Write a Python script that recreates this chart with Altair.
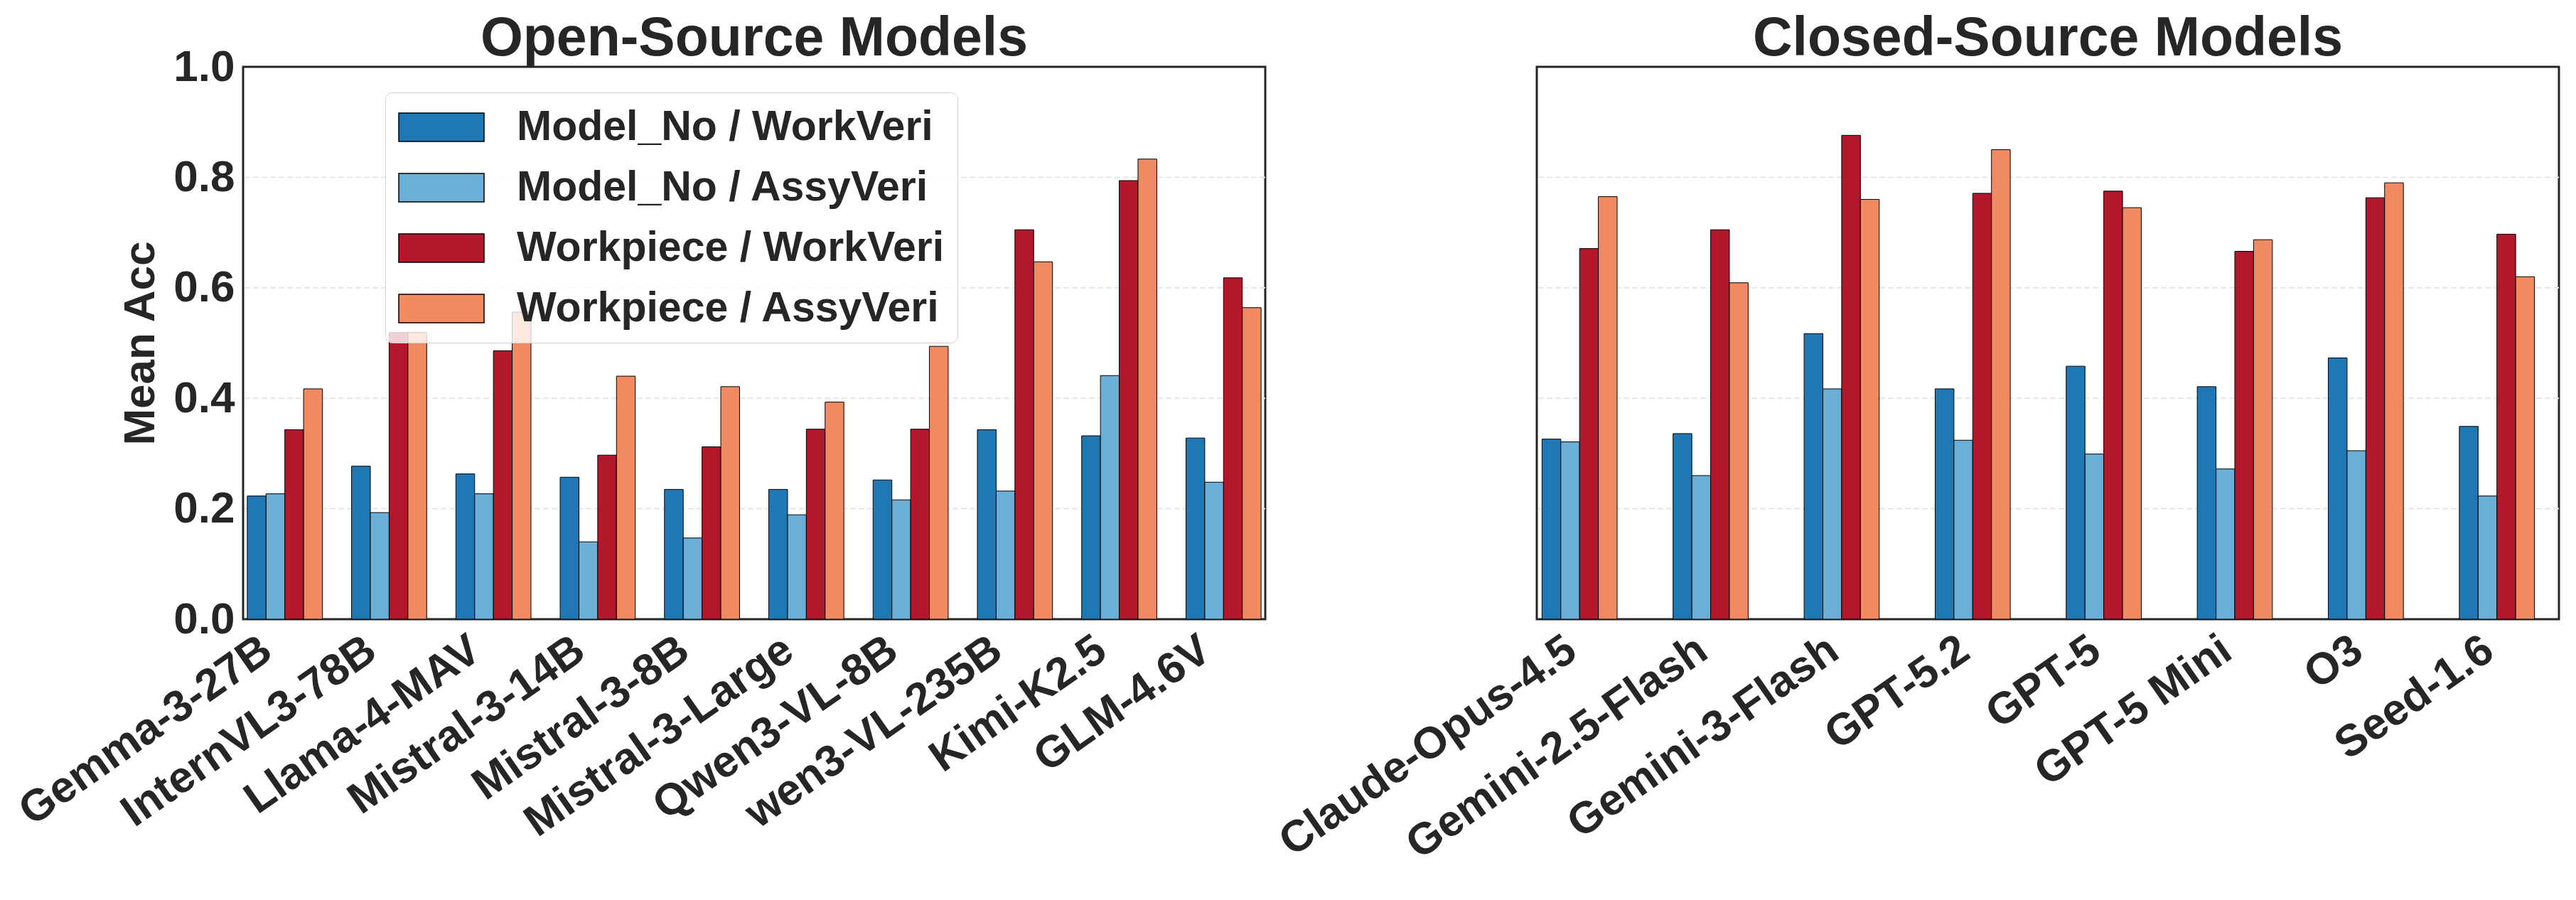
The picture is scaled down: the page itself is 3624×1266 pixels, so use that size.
import altair as alt
import pandas as pd

FONT = "Liberation Sans"
TXT = "#262626"

series = ["Model_No / WorkVeri", "Model_No / AssyVeri",
          "Workpiece / WorkVeri", "Workpiece / AssyVeri"]
colors = ["#1f77b4", "#6baed6", "#b2182b", "#ef8a62"]

open_models = ["Gemma-3-27B", "InternVL3-78B", "Llama-4-MAV", "Mistral-3-14B",
               "Mistral-3-8B", "Mistral-3-Large", "Qwen3-VL-8B", "wen3-VL-235B",
               "Kimi-K2.5", "GLM-4.6V"]
open_model_work = [0.223, 0.277, 0.263, 0.257, 0.235, 0.235, 0.252, 0.343, 0.332, 0.328]
open_model_assy = [0.227, 0.193, 0.227, 0.140, 0.147, 0.189, 0.216, 0.232, 0.441, 0.248]
open_piece_work = [0.343, 0.519, 0.486, 0.297, 0.312, 0.344, 0.344, 0.705, 0.794, 0.618]
open_piece_assy = [0.417, 0.519, 0.556, 0.440, 0.421, 0.393, 0.494, 0.647, 0.833, 0.564]

closed_models = ["Claude-Opus-4.5", "Gemini-2.5-Flash", "Gemini-3-Flash", "GPT-5.2",
                 "GPT-5", "GPT-5 Mini", "O3", "Seed-1.6"]
closed_model_work = [0.326, 0.336, 0.517, 0.417, 0.458, 0.421, 0.473, 0.349]
closed_model_assy = [0.321, 0.260, 0.417, 0.324, 0.299, 0.272, 0.305, 0.223]
closed_piece_work = [0.671, 0.705, 0.876, 0.771, 0.775, 0.666, 0.763, 0.697]
closed_piece_assy = [0.765, 0.609, 0.760, 0.850, 0.745, 0.687, 0.790, 0.620]

y_tick_values = [0, 0.2, 0.4, 0.6, 0.8, 1.0]
grid_values = [0.2, 0.4, 0.6, 0.8]


def make_df(models, arrays):
    rows = []
    for s, vals in zip(series, arrays):
        for m, v in zip(models, vals):
            rows.append({"model": m, "series": s, "value": v})
    return pd.DataFrame(rows)


open_df = make_df(open_models, [open_model_work, open_model_assy, open_piece_work, open_piece_assy])
closed_df = make_df(closed_models, [closed_model_work, closed_model_assy, closed_piece_work, closed_piece_assy])
grid_df = pd.DataFrame({"value": grid_values})

W, H = 1438, 777


def panel(df, models, title, left):
    x_axis = alt.Axis(labelAngle=-35, labelAlign="right", labelBaseline="alphabetic",
                      labelPadding=52, labelOffset=-14, labelFontSize=62, labelFontWeight="bold",
                      labelFont=FONT, labelColor=TXT, ticks=False, domain=False,
                      labelLimit=2000, labelOverlap=False)
    yscale = alt.Scale(domain=[0, 1], nice=False)
    if left:
        y_axis = alt.Axis(values=y_tick_values, format=".1f", titleFontSize=62,
                          titleFontWeight="bold", titleFont=FONT, titleColor=TXT,
                          titlePadding=14, labelFontSize=62, labelFontWeight="bold",
                          labelFont=FONT, labelColor=TXT, labelPadding=12,
                          ticks=False, domain=False, grid=False)
        y = alt.Y("value:Q", title="Mean Acc", scale=yscale, axis=y_axis)
        y_grid = alt.Y("value:Q", title="Mean Acc", scale=yscale, axis=y_axis)
        legend = alt.Legend(title=None, orient="none", legendX=200, legendY=36,
                            direction="vertical", labelFontSize=59, labelFontWeight="bold",
                            labelFont=FONT, labelColor=TXT,
                            symbolType="M-1,-0.667H3V0.667H-1Z", symbolSize=3600,
                            symbolStrokeColor="black", symbolStrokeWidth=1.5,
                            symbolOpacity=1, labelOffset=105, rowPadding=24, padding=18,
                            fillColor="rgba(255,255,255,0.8)", strokeColor="#d0d0d0",
                            cornerRadius=10, labelLimit=2000)
        color = alt.Color("series:N", legend=legend,
                          scale=alt.Scale(domain=series, range=colors))
        t_off = -108
    else:
        y = alt.Y("value:Q", title=None, scale=yscale, axis=None)
        y_grid = alt.Y("value:Q", title=None, scale=yscale, axis=None)
        color = alt.Color("series:N", legend=None,
                          scale=alt.Scale(domain=series, range=colors))
        t_off = -77

    grid = alt.Chart(grid_df).mark_rule(color="#e6e6e6", strokeWidth=2,
                                        strokeDash=[8, 4]).encode(y=y_grid)
    bars = alt.Chart(df).mark_bar(stroke="black", strokeWidth=1).encode(
        x=alt.X("model:N", sort=models, title=None,
                scale=alt.Scale(paddingInner=0.28, paddingOuter=0.04), axis=x_axis),
        xOffset=alt.XOffset("series:N", sort=series, scale=alt.Scale(domain=series)),
        y=y,
        color=color,
    )
    return alt.layer(grid, bars).properties(
        width=W, height=H,
        title=alt.Title(title, fontSize=77, fontWeight="bold", font=FONT, color=TXT,
                        anchor="middle", frame="group", offset=t_off, baseline="bottom"),
    )


left = panel(open_df, open_models, "Open-Source Models", True)
right = panel(closed_df, closed_models, "Closed-Source Models", False)

chart = alt.hconcat(left, right, spacing=382, bounds="flush").resolve_scale(
    color="independent"
).properties(
    padding={"left": 6, "top": 6, "right": 0, "bottom": 0},
    background="white",
).configure_view(
    stroke=TXT, strokeWidth=3
)

chart.save("out.html", embed_options={"renderer": "svg", "actions": False})
